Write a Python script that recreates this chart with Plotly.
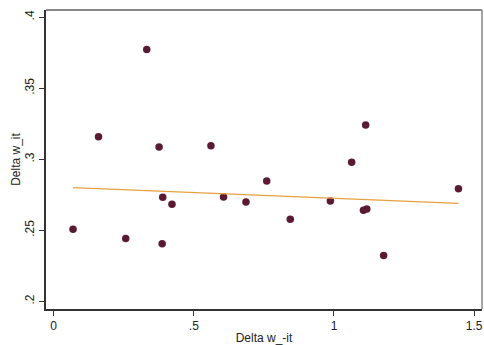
import plotly.graph_objects as go

# Data
delta_w_minus_it = [0.069, 0.160, 0.257, 0.332, 0.376, 0.389, 0.387, 0.422, 0.561, 0.606,
                    0.686, 0.760, 0.844, 0.987, 1.063, 1.113, 1.105, 1.117, 1.177, 1.444]
delta_w_it = [0.2508, 0.3158, 0.2443, 0.3773, 0.3086, 0.2732, 0.2406, 0.2683, 0.3095, 0.2734,
              0.2699, 0.2848, 0.2578, 0.2706, 0.2979, 0.3242, 0.2641, 0.2650, 0.2322, 0.2792]

fit_x = [0.069, 1.444]
fit_y = [0.2800, 0.2690]

x_ticks = [0, 0.5, 1, 1.5]
x_ticklabels = ["0", ".5", "1", "1.5"]
y_ticks = [0.2, 0.25, 0.3, 0.35, 0.4]
y_ticklabels = [".2", ".25", ".3", ".35", ".4"]

fig = go.Figure()
fig.add_trace(go.Scatter(
    x=delta_w_minus_it, y=delta_w_it, mode="markers",
    marker=dict(color="#5B1A33", size=7.5, line=dict(width=0)),
    showlegend=False, hoverinfo="skip"))
fig.add_trace(go.Scatter(
    x=fit_x, y=fit_y, mode="lines",
    line=dict(color="#E8A040", width=1.2),
    showlegend=False, hoverinfo="skip"))

font = dict(family="Liberation Sans, Arial, sans-serif", size=12, color="#222222")

fig.update_layout(
    width=484, height=345,
    margin=dict(l=46, r=1, t=10, b=34),
    paper_bgcolor="white", plot_bgcolor="white",
    font=font,
    xaxis=dict(
        range=[-0.0274, 1.528],
        tickvals=x_ticks, ticktext=x_ticklabels,
        showgrid=False, zeroline=False,
        showline=True, linecolor="#333333", linewidth=2,
        ticks="outside", ticklen=5, tickcolor="#333333", tickwidth=1,
        title=dict(text="Delta w_-it", font=font, standoff=2),
    ),
    yaxis=dict(
        range=[0.1946, 0.4051],
        tickvals=y_ticks, ticktext=y_ticklabels,
        tickangle=-90,
        showgrid=False, zeroline=False,
        showline=True, linecolor="#333333", linewidth=2,
        ticks="outside", ticklen=5, tickcolor="#333333", tickwidth=1,
        title=dict(text="Delta w_it", font=font, standoff=0),
    ),
    shapes=[
        dict(type="line", xref="paper", yref="paper", x0=0, x1=1, y0=1, y1=1,
             line=dict(color="#111111", width=1)),
        dict(type="line", xref="paper", yref="paper", x0=1, x1=1, y0=0, y1=1,
             line=dict(color="#888888", width=1.5)),
    ],
)

fig.write_html("out.html")
